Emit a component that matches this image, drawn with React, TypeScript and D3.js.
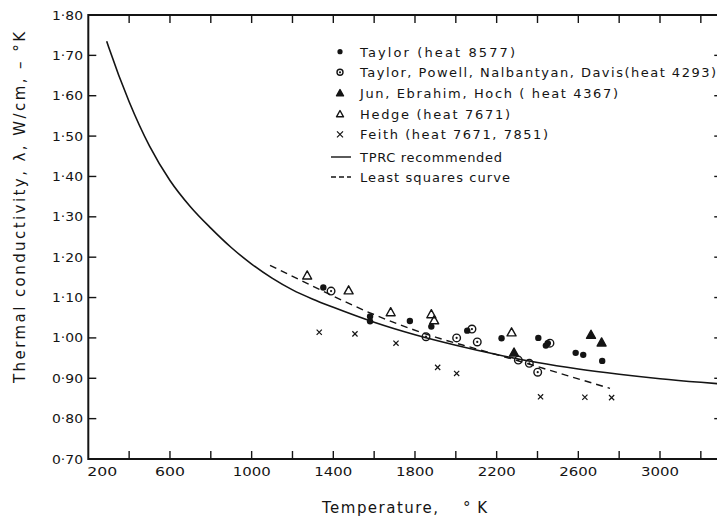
import React from "react";
import * as d3 from "d3";

const xTickValues = [400, 600, 800, 1000, 1200, 1400, 1600, 1800, 2000, 2200, 2400, 2600, 2800, 3000, 3200];
const xTickLabels = ["200", "600", "1000", "1400", "1800", "2200", "2600", "3000"];
const yTickValues = [0.7, 0.8, 0.9, 1.0, 1.1, 1.2, 1.3, 1.4, 1.5, 1.6, 1.7, 1.8];
const yTickLabels = ["0·70", "0·80", "0·90", "1·00", "1·10", "1·20", "1·30", "1·40", "1·50", "1·60", "1·70", "1·80"];

const taylorT = [1351, 1580, 1580, 1775, 1880, 2224, 2404, 2441, 2450, 2587, 2624, 2717, 2056];
const taylorK = [1.125, 1.053, 1.041, 1.042, 1.028, 0.999, 1.0, 0.981, 0.987, 0.963, 0.958, 0.943, 1.018];
const powellT = [1389, 1854, 2004, 2079, 2105, 2306, 2360, 2401, 2461];
const powellK = [1.116, 1.003, 1.0, 1.022, 0.99, 0.945, 0.937, 0.915, 0.987];
const junT = [2285, 2662, 2714];
const junK = [0.963, 1.007, 0.988];
const hedgeT = [1272, 1475, 1681, 1880, 1894, 2273];
const hedgeK = [1.154, 1.117, 1.063, 1.058, 1.043, 1.013];
const feithT = [1331, 1506, 1707, 1911, 2004, 2415, 2632, 2763];
const feithK = [1.014, 1.01, 0.987, 0.927, 0.912, 0.854, 0.853, 0.852];

const tprcT = [290, 300, 400, 500, 600, 700, 800, 900, 1000, 1100, 1200, 1300, 1400, 1600, 1800, 2000, 2200, 2400, 2600, 2800, 3000, 3200, 3300];
const tprcK = [1.735, 1.72, 1.585, 1.475, 1.39, 1.325, 1.272, 1.224, 1.183, 1.148, 1.119, 1.096, 1.076, 1.039, 1.008, 0.982, 0.959, 0.939, 0.923, 0.91, 0.899, 0.89, 0.886];
const lsqT = [1090, 1300, 1580, 1900, 2100, 2300, 2550, 2755];
const lsqK = [1.18, 1.128, 1.062, 1.002, 0.973, 0.944, 0.906, 0.875];

const legendLabels = [
  "Taylor (heat 8577)",
  "Taylor, Powell, Nalbantyan, Davis(heat 4293)",
  "Jun, Ebrahim, Hoch ( heat 4367)",
  "Hedge (heat 7671)",
  "Feith (heat 7671, 7851)",
];
const legendLineLabels = ["TPRC recommended", "Least squares curve"];

const INK = "#141414";
const FONT = "'DejaVu Sans', sans-serif";

export default function App() {
  const x = d3.scaleLinear().domain([200, 3000]).range([88.3, 660]);
  const y = d3.scaleLinear().domain([0.7, 1.8]).range([459, 15]);
  const xRight = x(3300) + 1;
  const left = x(200);
  const top = y(1.8);
  const bottom = y(0.7);

  const line = d3
    .line<[number, number]>()
    .x((d) => x(d[0]))
    .y((d) => y(d[1]))
    .curve(d3.curveMonotoneX);

  const tprc = line(tprcT.map((t, i) => [t, tprcK[i]]) as [number, number][]) || "";
  const lsq = line(lsqT.map((t, i) => [t, lsqK[i]]) as [number, number][]) || "";

  const dot = (cx: number, cy: number, r: number, key: string) => (
    <circle key={key} cx={cx} cy={cy} r={r} fill={INK} />
  );
  const circDot = (cx: number, cy: number, r: number, key: string) => (
    <g key={key}>
      <circle cx={cx} cy={cy} r={r} fill="none" stroke={INK} strokeWidth={1.4} />
      <circle cx={cx} cy={cy} r={1.1} fill={INK} />
    </g>
  );
  const tri = (cx: number, cy: number, s: number, filled: boolean, key: string) => {
    const h = s * 0.9;
    const p = `M${cx},${cy - h * 0.6} L${cx + s / 2},${cy + h * 0.4} L${cx - s / 2},${cy + h * 0.4} Z`;
    return (
      <path key={key} d={p} fill={filled ? INK : "none"} stroke={INK} strokeWidth={1.4} strokeLinejoin="round" />
    );
  };
  const cross = (cx: number, cy: number, s: number, key: string) => (
    <path
      key={key}
      d={`M${cx - s},${cy - s} L${cx + s},${cy + s} M${cx + s},${cy - s} L${cx - s},${cy + s}`}
      stroke={INK}
      strokeWidth={1.2}
    />
  );

  const legendRowY = [51.7, 72.3, 93.3, 114.3, 134.3];
  const legendEnds = [515, 716, 618, 510, 548];
  const lineRowY = [157, 177];

  return (
    <svg
      width={717}
      height={517}
      style={{ position: "absolute", left: 0, top: 0, background: "#fff" }}
      fontFamily={FONT}
    >
      <rect x={0} y={0} width={717} height={517} fill="#fff" />
      <path
        d={`M${xRight},${top} L${left},${top} L${left},${bottom} L${xRight},${bottom}`}
        fill="none"
        stroke={INK}
        strokeWidth={2}
      />
      <line x1={xRight} x2={xRight} y1={top} y2={bottom} stroke={INK} strokeWidth={2} />
      {xTickValues.map((t) => (
        <g key={"xt" + t}>
          <line x1={x(t)} x2={x(t)} y1={bottom} y2={bottom - 8} stroke={INK} strokeWidth={1.4} />
          <line x1={x(t)} x2={x(t)} y1={top} y2={top + 8} stroke={INK} strokeWidth={1.4} />
        </g>
      ))}
      {yTickValues.slice(1, -1).map((v) => (
        <g key={"yt" + v}>
          <line x1={left} x2={left + 8} y1={y(v)} y2={y(v)} stroke={INK} strokeWidth={1.4} />
          <line x1={xRight} x2={xRight - 8} y1={y(v)} y2={y(v)} stroke={INK} strokeWidth={1.4} />
        </g>
      ))}
      {xTickLabels.map((lab, i) => {
        const v = 200 + i * 400;
        const w = lab.length === 3 ? 30 : 38;
        const cx = i === 0 ? left + 14 : x(v);
        return (
          <text
            key={"xl" + lab}
            x={cx - w / 2}
            y={476}
            fontSize={13}
            fill={INK}
            textLength={w}
            lengthAdjust="spacingAndGlyphs"
          >
            {lab}
          </text>
        );
      })}
      {yTickValues.map((v, i) => (
        <text
          key={"yl" + v}
          x={52}
          y={y(v) + 4.5}
          fontSize={12.5}
          fill={INK}
          textLength={31}
          lengthAdjust="spacingAndGlyphs"
        >
          {yTickLabels[i]}
        </text>
      ))}
      <text
        transform={`translate(25,383) rotate(-90)`}
        x={0}
        y={0}
        fontSize={15}
        fill={INK}
        textLength={351}
        lengthAdjust="spacing"
      >
        Thermal conductivity, λ, W/cm, – °K
      </text>
      <text x={322} y={513} fontSize={15} fill={INK} textLength={116} lengthAdjust="spacing">
        Temperature,
      </text>
      <text x={463} y={513} fontSize={15} fill={INK} textLength={24} lengthAdjust="spacing">
        °K
      </text>
      <path d={tprc} fill="none" stroke={INK} strokeWidth={1.6} />
      <path d={lsq} fill="none" stroke={INK} strokeWidth={1.4} strokeDasharray="7 5" />
      {taylorT.map((t, i) => dot(x(t), y(taylorK[i]), 3.2, "ta" + i))}
      {powellT.map((t, i) => circDot(x(t), y(powellK[i]), 3.8, "po" + i))}
      {junT.map((t, i) => tri(x(t), y(junK[i]), 9, true, "ju" + i))}
      {hedgeT.map((t, i) => tri(x(t), y(hedgeK[i]), 9, false, "he" + i))}
      {feithT.map((t, i) => cross(x(t), y(feithK[i]), 2.6, "fe" + i))}
      {dot(340, legendRowY[0], 2.6, "lg0")}
      {circDot(340, legendRowY[1], 3, "lg1")}
      {tri(340, legendRowY[2], 7, true, "lg2")}
      {tri(340, legendRowY[3], 7, false, "lg3")}
      {cross(340, legendRowY[4], 3, "lg4")}
      {legendLabels.map((lab, i) => (
        <text
          key={"lt" + i}
          x={360}
          y={legendRowY[i] + 5}
          fontSize={13}
          fill={INK}
          textLength={legendEnds[i] - 360}
          lengthAdjust="spacing"
        >
          {lab}
        </text>
      ))}
      <line x1={331} x2={351} y1={lineRowY[0]} y2={lineRowY[0]} stroke={INK} strokeWidth={1.4} />
      <line x1={331} x2={351} y1={lineRowY[1]} y2={lineRowY[1]} stroke={INK} strokeWidth={1.4} strokeDasharray="5 3" />
      {legendLineLabels.map((lab, i) => (
        <text
          key={"ll" + i}
          x={360}
          y={lineRowY[i] + 5}
          fontSize={13}
          fill={INK}
          textLength={i === 0 ? 142 : 150}
          lengthAdjust="spacing"
        >
          {lab}
        </text>
      ))}
    </svg>
  );
}
